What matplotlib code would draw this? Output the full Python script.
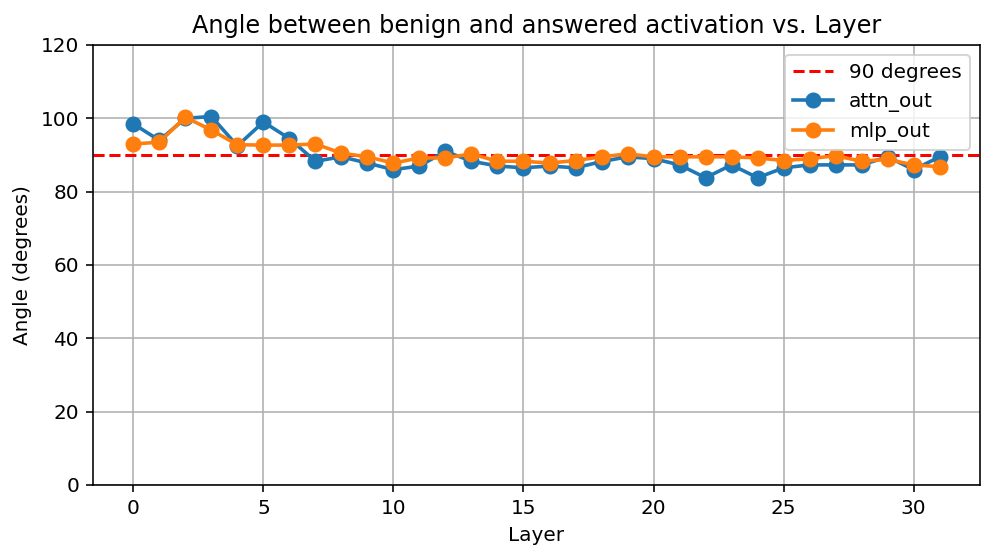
import matplotlib
matplotlib.use("Agg")
import matplotlib.pyplot as plt
import numpy as np

layers = np.arange(32)
attn_out = [98.5, 94, 100, 100.5, 92.5, 99, 94.5, 88.3, 89.5, 87.8,
            86, 87, 91, 88.3, 87, 86.5, 87, 86.5, 88.2, 89.5,
            89, 87.3, 83.8, 87.3, 83.8, 86.5, 87.3, 87.3, 87.3, 89.5,
            86, 89.5]
mlp_out = [93, 93.5, 100.3, 96.8, 92.8, 92.7, 92.7, 93, 90.5, 89.5,
           87.8, 89.2, 89.2, 90.3, 88.3, 88.3, 87.8, 88.5, 89.5, 90.3,
           89.5, 89.5, 89.5, 89.5, 89.2, 88.5, 89, 89.8, 88.3, 88.8,
           87.3, 86.8]

DPI = 144
fig, ax = plt.subplots(figsize=(996 / DPI, 560 / DPI), dpi=DPI)
fig.subplots_adjust(left=93 / 996, right=980 / 996, bottom=1 - 485 / 560, top=1 - 45 / 560)

ax.axhline(90, color="red", linestyle="--", label="90 degrees")
ax.plot(layers, attn_out, marker="o", markersize=7, lw=1.8, label="attn_out")
ax.plot(layers, mlp_out, marker="o", markersize=7, lw=1.8, label="mlp_out")
ax.set_ylim(0, 120)
ax.set_xlabel("Layer")
ax.set_ylabel("Angle (degrees)")
ax.set_title("Angle between benign and answered activation vs. Layer")
ax.grid(True)
ax.legend(loc="upper right")

fig.savefig("out.png", dpi=DPI)
